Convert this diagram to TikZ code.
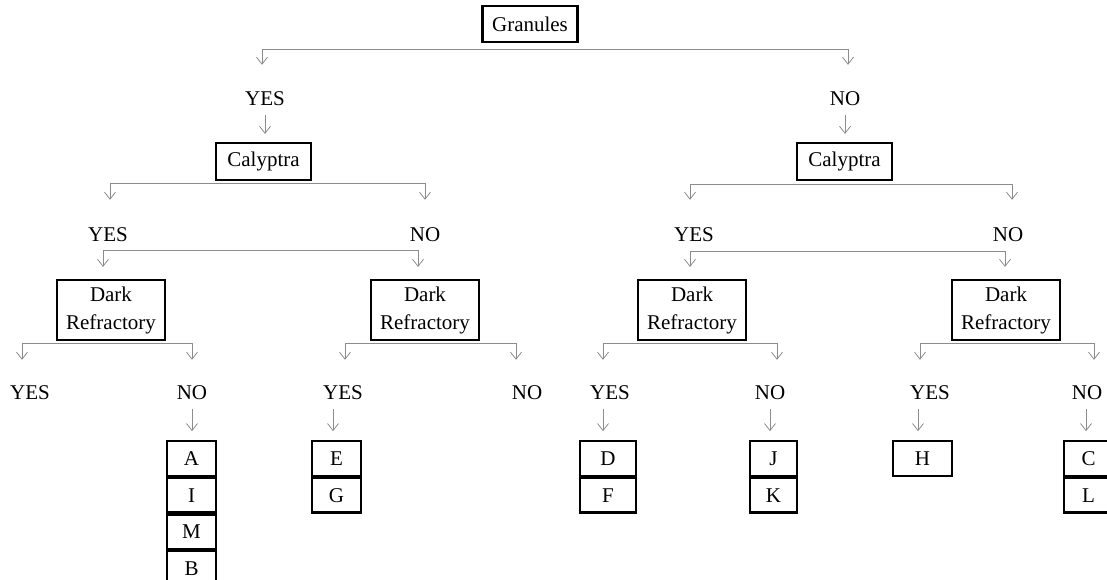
\documentclass[tikz,border=0pt]{standalone}
\usepackage{fontspec}
\setmainfont{Liberation Serif}
\usetikzlibrary{arrows.meta,calc}
\begin{document}
\begin{tikzpicture}[x=1pt,y=-1pt,
  box/.style={draw=black,line width=2.2pt,inner sep=0pt,font=\fontsize{21}{28}\selectfont,align=center},
  leaf/.style={box,minimum width=49pt,minimum height=34.5pt},
  lab/.style={inner sep=0pt,text height=14pt,text depth=0pt,font=\fontsize{21}{24}\selectfont},
  gl/.style={draw=black!45,line width=0.8pt},
  arr/.style={gl,-{Straight Barb[length=7pt,width=11pt]}},
]
\useasboundingbox (0,0) rectangle (1107,579);
% root
\node[box,minimum width=95pt,minimum height=36pt] (g) at (530,24) {Granules};
\node[lab] (y1) at (265,98) {YES};
\node[lab] (n1) at (845,98) {NO};
% calyptra
\node[box,minimum width=95pt,minimum height=37pt] (cA) at (263.5,161.5) {Calyptra};
\node[box,minimum width=95pt,minimum height=37pt] (cB) at (844.5,161.5) {Calyptra};
\node[lab] (y2a) at (108,234) {YES};
\node[lab] (n2a) at (425,234) {NO};
\node[lab] (y2b) at (694,234) {YES};
\node[lab] (n2b) at (1008,234) {NO};
% dark refractory
\node[box,minimum width=108pt,minimum height=60pt] (dA) at (111,310) {Dark\\Refractory};
\node[box,minimum width=108pt,minimum height=60pt] (dB) at (425,310) {Dark\\Refractory};
\node[box,minimum width=108pt,minimum height=60pt] (dC) at (692,310) {Dark\\Refractory};
\node[box,minimum width=108pt,minimum height=60pt] (dD) at (1006,310) {Dark\\Refractory};
% level 3 labels
\node[lab] (y3a) at (30,392) {YES};
\node[lab] (n3a) at (192,392) {NO};
\node[lab] (y3b) at (343,392) {YES};
\node[lab] (n3b) at (527,392) {NO};
\node[lab] (y3c) at (610,392) {YES};
\node[lab] (n3c) at (770,392) {NO};
\node[lab] (y3d) at (930,392) {YES};
\node[lab] (n3d) at (1087,392) {NO};
% leaves
\node[leaf] (lA) at (191.5,458.5) {A};
\node[leaf,anchor=north] (lI) at (lA.south) {I};
\node[leaf,anchor=north] (lM) at (lI.south) {M};
\node[leaf,anchor=north] (lB) at (lM.south) {B};
\node[leaf] (lE) at (336.5,458.5) {E};
\node[leaf,anchor=north] (lG) at (lE.south) {G};
\node[leaf,minimum width=56pt] (lD) at (608,458.5) {D};
\node[leaf,minimum width=56pt,anchor=north] (lF) at (lD.south) {F};
\node[leaf,minimum width=47pt] (lJ) at (773.5,458.5) {J};
\node[leaf,minimum width=47pt,anchor=north] (lK) at (lJ.south) {K};
\node[leaf,minimum width=59pt] (lH) at (922.5,458.5) {H};
\node[leaf] (lC) at (1088.5,458.5) {C};
\node[leaf,anchor=north] (lL) at (lC.south) {L};
% connectors level 1
\draw[arr,shorten >=26pt] (g.south) ++(0,6) -| ([xshift=-3pt]y1.north);
\draw[arr,shorten >=26pt] (g.south) ++(0,6) -| ([xshift=3pt]n1.north);
\draw[arr,shorten <=10pt,shorten >=8pt] (y1.south) -- (y1.south |- cA.north);
\draw[arr,shorten <=10pt,shorten >=8pt] (n1.south) -- (n1.south |- cB.north);
% level 2
\draw[arr,shorten >=27pt] (cA.south) ++(0,2) -| ([xshift=2pt]y2a.north);
\draw[arr,shorten >=27pt] (cA.south) ++(0,2) -| (n2a.north);
\draw[arr,shorten >=27pt] (cB.south) ++(0,3) -| ([xshift=-4pt]y2b.north);
\draw[arr,shorten >=27pt] (cB.south) ++(0,3) -| ([xshift=4pt]n2b.north);
% YES/NO to dark refractory bars
\coordinate (bA) at ($(y2a.south)+(-5,9)$);
\coordinate (bB) at ($(n2a.south)+(-7,9)$);
\draw[gl] (bA) -- (bB);
\draw[arr,shorten >=12pt] (bA) -- (bA |- dA.north);
\draw[arr,shorten >=12pt] (bB) -- (bB |- dB.north);
\coordinate (bC) at ($(y2b.south)+(-4,10)$);
\coordinate (bD) at ($(n2b.south)+(-3,10)$);
\draw[gl] (bC) -- (bD);
\draw[arr,shorten >=12pt] (bC) -- (bC |- dC.north);
\draw[arr,shorten >=12pt] (bD) -- (bD |- dD.north);
% level 3
\draw[arr,shorten >=25pt] (dA.south) ++(0,2) -| ([xshift=-8pt]y3a.north);
\draw[arr,shorten >=25pt] (dA.south) ++(0,2) -| (n3a.north);
\draw[arr,shorten >=25pt] (dB.south) ++(0,2) -| ([xshift=2pt]y3b.north);
\draw[arr,shorten >=25pt] (dB.south) ++(0,2) -| ([xshift=-11pt]n3b.north);
\draw[arr,shorten >=25pt] (dC.south) ++(0,2) -| ([xshift=-7pt]y3c.north);
\draw[arr,shorten >=25pt] (dC.south) ++(0,2) -| ([xshift=7pt]n3c.north);
\draw[arr,shorten >=25pt] (dD.south) ++(0,2) -| ([xshift=-10pt]y3d.north);
\draw[arr,shorten >=25pt] (dD.south) ++(0,2) -| ([xshift=7pt]n3d.north);
% labels to leaves
\draw[arr,shorten <=10pt,shorten >=9pt] (n3a.south) -- (n3a.south |- lA.north);
\draw[arr,shorten <=10pt,shorten >=9pt] ([xshift=-10pt]y3b.south) -- ([xshift=-10pt]y3b.south |- lE.north);
\draw[arr,shorten <=10pt,shorten >=9pt] ([xshift=-7pt]y3c.south) -- ([xshift=-7pt]y3c.south |- lD.north);
\draw[arr,shorten <=10pt,shorten >=9pt] (n3c.south) -- (n3c.south |- lJ.north);
\draw[arr,shorten <=10pt,shorten >=9pt] ([xshift=-12pt]y3d.south) -- ([xshift=-12pt]y3d.south |- lH.north);
\draw[arr,shorten <=10pt,shorten >=9pt] ([xshift=-1pt]n3d.south) -- ([xshift=-1pt]n3d.south |- lC.north);
\end{tikzpicture}
\end{document}
